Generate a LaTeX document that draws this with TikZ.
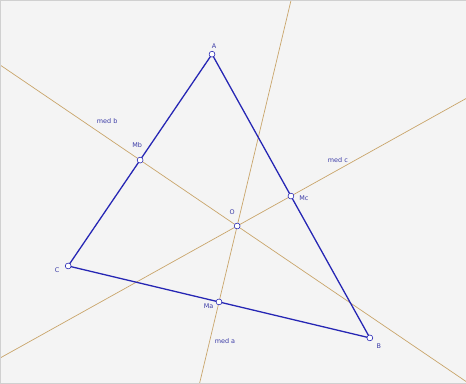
\documentclass[tikz,border=0pt]{standalone}
\usepackage{fontspec}
\setsansfont{DejaVu Sans}
\usetikzlibrary{calc}
\definecolor{GeoBlue}{HTML}{2626B4}
\definecolor{GeoText}{HTML}{3A3AA6}
\definecolor{GeoTan}{HTML}{C9A56B}
\definecolor{GeoBack}{HTML}{F4F4F4}
\definecolor{GeoFrame}{HTML}{D0D0D0}

\begin{document}
\begin{tikzpicture}[x=0.03cm,y=-0.03cm,
    side/.style={draw=GeoBlue,line width=1.1pt},
    med/.style={draw=GeoTan,line width=0.6pt},
    dot/.style={circle,draw=GeoBlue,fill=white,line width=0.5pt,
                inner sep=0pt,minimum size=5pt},
    lbl/.style={font=\sffamily\fontsize{5.5}{6}\selectfont,text=GeoText,inner sep=0pt}
  ]
    \fill[GeoBack] (0,0) rectangle (466,383);
    \begin{scope}
    \clip (0,0) rectangle (466,383);
    % triangle and midpoints
    \coordinate (A) at (212,54);
    \coordinate (B) at (370,338);
    \coordinate (C) at (68,266);
    \coordinate (Ma) at ($(B)!0.5!(C)$);
    \coordinate (Mb) at ($(A)!0.5!(C)$);
    \coordinate (Mc) at ($(A)!0.5!(B)$);
    \coordinate (ma2) at ($(Ma)!1!90:(B)$);
    \coordinate (mb2) at ($(Mb)!1!90:(A)$);
    \coordinate (O) at (intersection of Ma--ma2 and Mb--mb2);
    % perpendicular bisectors
    \coordinate (medA1) at ($(O)!-3.2!(Ma)$);
    \coordinate (medA2) at ($(Ma)!-1.3!(O)$);
    \coordinate (medB1) at ($(Mb)!-1.6!(O)$);
    \coordinate (medB2) at ($(O)!-2.6!(Mb)$);
    \coordinate (medC1) at ($(O)!-4.6!(Mc)$);
    \coordinate (medC2) at ($(Mc)!-3.5!(O)$);
    \draw[med] (medA1) -- (medA2);
    \draw[med] (medB1) -- (medB2);
    \draw[med] (medC1) -- (medC2);
    \draw[side] (A) -- (B) -- (C) -- cycle;
    \end{scope}
    \draw[GeoFrame,line width=0.4pt] (0,0) rectangle (466,383);

    \foreach \p in {A,B,C,Ma,Mb,Mc,O}
      \node[dot] (d\p) at (\p) {};

    \node[lbl] (labA) at ($(A)+(2,-8)$) {A};
    \node[lbl] (labB) at ($(B)+(9,8.5)$) {B};
    \node[lbl] (labC) at ($(C)+(-11,4)$) {C};
    \node[lbl] (labMa) at ($(Ma)+(-10.5,4.5)$) {Ma};
    \node[lbl] (labMb) at ($(Mb)+(-3,-15)$) {Mb};
    \node[lbl] (labMc) at ($(Mc)+(13,2)$) {Mc};
    \node[lbl] (labO) at ($(O)+(-5,-14)$) {O};
    \node[lbl] (labmeda) at (225,341.5) {med a};
    \node[lbl] (labmedb) at (107,120.5) {med b};
    \node[lbl] (labmedc) at (338,160) {med c};
\end{tikzpicture}
\end{document}
